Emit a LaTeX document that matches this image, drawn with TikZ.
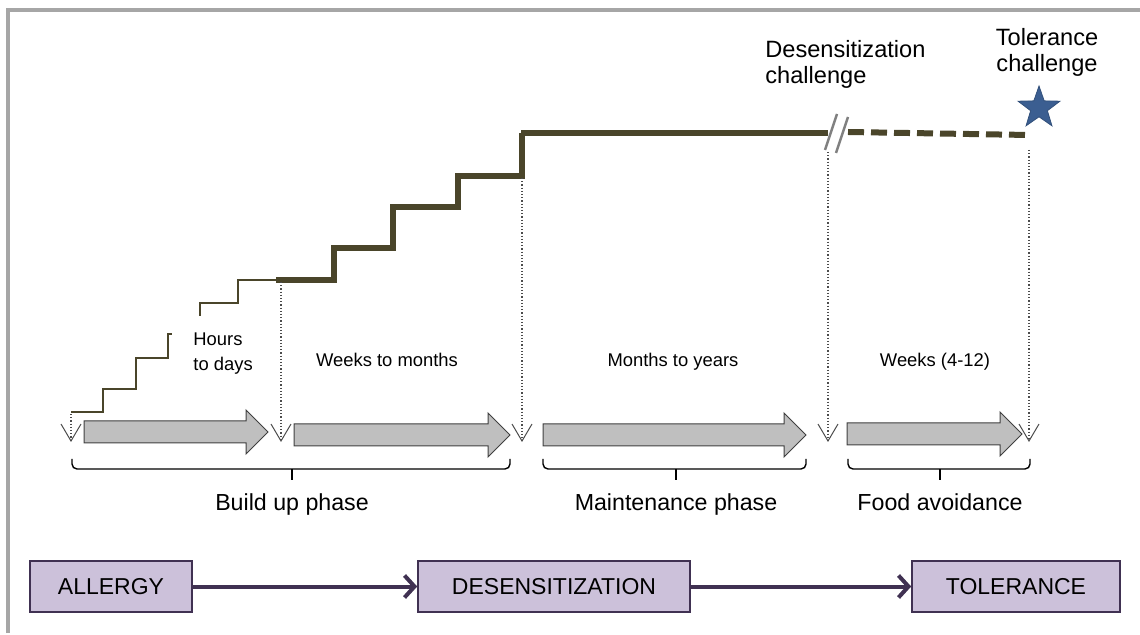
\documentclass[tikz,border=0pt]{standalone}
\usepackage{fontspec}
\setmainfont{Liberation Sans}
\usepackage{tikz}
\usetikzlibrary{arrows.meta,shapes.geometric}
\usepackage{xcolor}

\definecolor{stair}{RGB}{74,69,42}
\definecolor{framegray}{RGB}{166,166,166}
\definecolor{boxfill}{RGB}{204,193,218}
\definecolor{boxline}{RGB}{64,49,82}
\definecolor{arrowfill}{RGB}{191,191,191}
\definecolor{starblue}{RGB}{59,94,145}

% grey block arrow: start x, tip x, centre y
\newcommand{\phasearrow}[3]{%
  \draw[blockarrow] (#1,#3-11) -- (#2-22,#3-11) -- (#2-22,#3-22) -- (#2,#3)
    -- (#2-22,#3+22) -- (#2-22,#3+11) -- (#1,#3+11) -- cycle;}
% bracket under the arrows: left x, right x, middle x
\newcommand{\phasebrace}[3]{%
  \draw[brace] (#1,459) |- (#3,469) -| (#2,459);
  \draw[brace] (#3,469) -- (#3,480);}

\begin{document}
\begin{tikzpicture}[
  x=0.5pt, y=-0.5pt,
  >=Stealth,
  thinstep/.style={draw=stair, line width=1pt},
  thickstep/.style={draw=stair, line width=2.6pt},
  topstep/.style={draw=stair, line width=3.2pt},
  guide/.style={densely dotted, draw=black!70, line width=0.6pt,
    -{Straight Barb[length=8.5pt, width=10pt, line width=0.5pt]}},
  blockarrow/.style={fill=arrowfill, draw=black!75, line width=0.5pt},
  brace/.style={draw=black, line width=0.7pt, rounded corners=2.5pt},
  small/.style={font=\fontsize{9.2}{12.5}\selectfont, inner sep=0pt},
  phase/.style={font=\fontsize{11.6}{14}\selectfont, inner sep=0pt},
  chal/.style={font=\fontsize{11.8}{13.2}\selectfont, inner sep=0pt},
  state/.style={draw=boxline, fill=boxfill, line width=0.8pt,
    minimum height=25.5pt, font=\fontsize{11.5}{14}\selectfont},
  flow/.style={draw=boxline, line width=2pt,
    -{Straight Barb[length=5pt, width=11pt]}},
]
\useasboundingbox (0,0) rectangle (1140,635);

% Frame
\draw[framegray, line width=2pt] (8,633) -- (8,10) -- (1140,10);

% Dose steps
\draw[thinstep] (71,412) -| (103,389) -| (136,358) -| (168,334) -- (172,334);
\draw[thinstep] (200,316) |- (238,303) |- (276,280);
\draw[thickstep, line join=miter] (276,280) -| (334,248) -| (393,207) -| (458,176) -| (522,133);
\draw[topstep] (521,133) -- (828,133);

% Break and avoidance period
\draw[gray, line width=1.2pt] (837,114) -- (825,150);
\draw[gray, line width=1.2pt] (848,117) -- (836,153);
\draw[draw=stair, line width=3pt, dash pattern=on 8pt off 3.5pt] (848,132) -- (1029,135);
\node[star, star points=5, star point ratio=2.5, fill=starblue, draw=starblue!85!black,
  inner sep=0pt, minimum size=22pt] (tolstar) at (1039,108) {};

% Challenges
\node[chal, anchor=north west, align=left] (deschal) at (765,40) {Desensitization\\challenge};
\node[chal, anchor=north, align=center] (tolchal) at (1047,28) {Tolerance\\challenge};

% Time marks
\draw[guide] (71,414) -- (71,442);
\draw[guide] (281,282) -- (281,442);
\draw[guide] (522,178) -- (522,442);
\draw[guide] (828,152) -- (828,442);
\draw[guide] (1029,150) -- (1029,442);

% Durations
\node[small, anchor=north west, align=left] (hours) at (193,332) {Hours\\to days};
\node[small, anchor=base] (weeks) at (387,367) {Weeks to months};
\node[small, anchor=base] (months) at (673,367) {Months to years};
\node[small, anchor=base] (fourtwelve) at (935,367) {Weeks (4-12)};

% Phase arrows
\phasearrow{84}{268}{432}
\phasearrow{294}{510}{435}
\phasearrow{543}{806}{435}
\phasearrow{847}{1022}{434}

% Phase brackets
\phasebrace{72}{510}{292}
\phasebrace{543}{806}{676}
\phasebrace{848}{1030}{940}
\node[phase, anchor=base] (buildup) at (292,511) {Build up phase};
\node[phase, anchor=base] (maint) at (676,511) {Maintenance phase};
\node[phase, anchor=base] (avoid) at (940,511) {Food avoidance};

% States
\node[state, minimum width=81pt] (allergy) at (111,586.5) {ALLERGY};
\node[state, minimum width=136pt] (desens) at (554,586.5) {DESENSITIZATION};
\node[state, minimum width=104pt] (tol) at (1016,586.5) {TOLERANCE};
\draw[flow] (allergy) -- (desens);
\draw[flow] (desens) -- (tol);

\end{tikzpicture}
\end{document}
